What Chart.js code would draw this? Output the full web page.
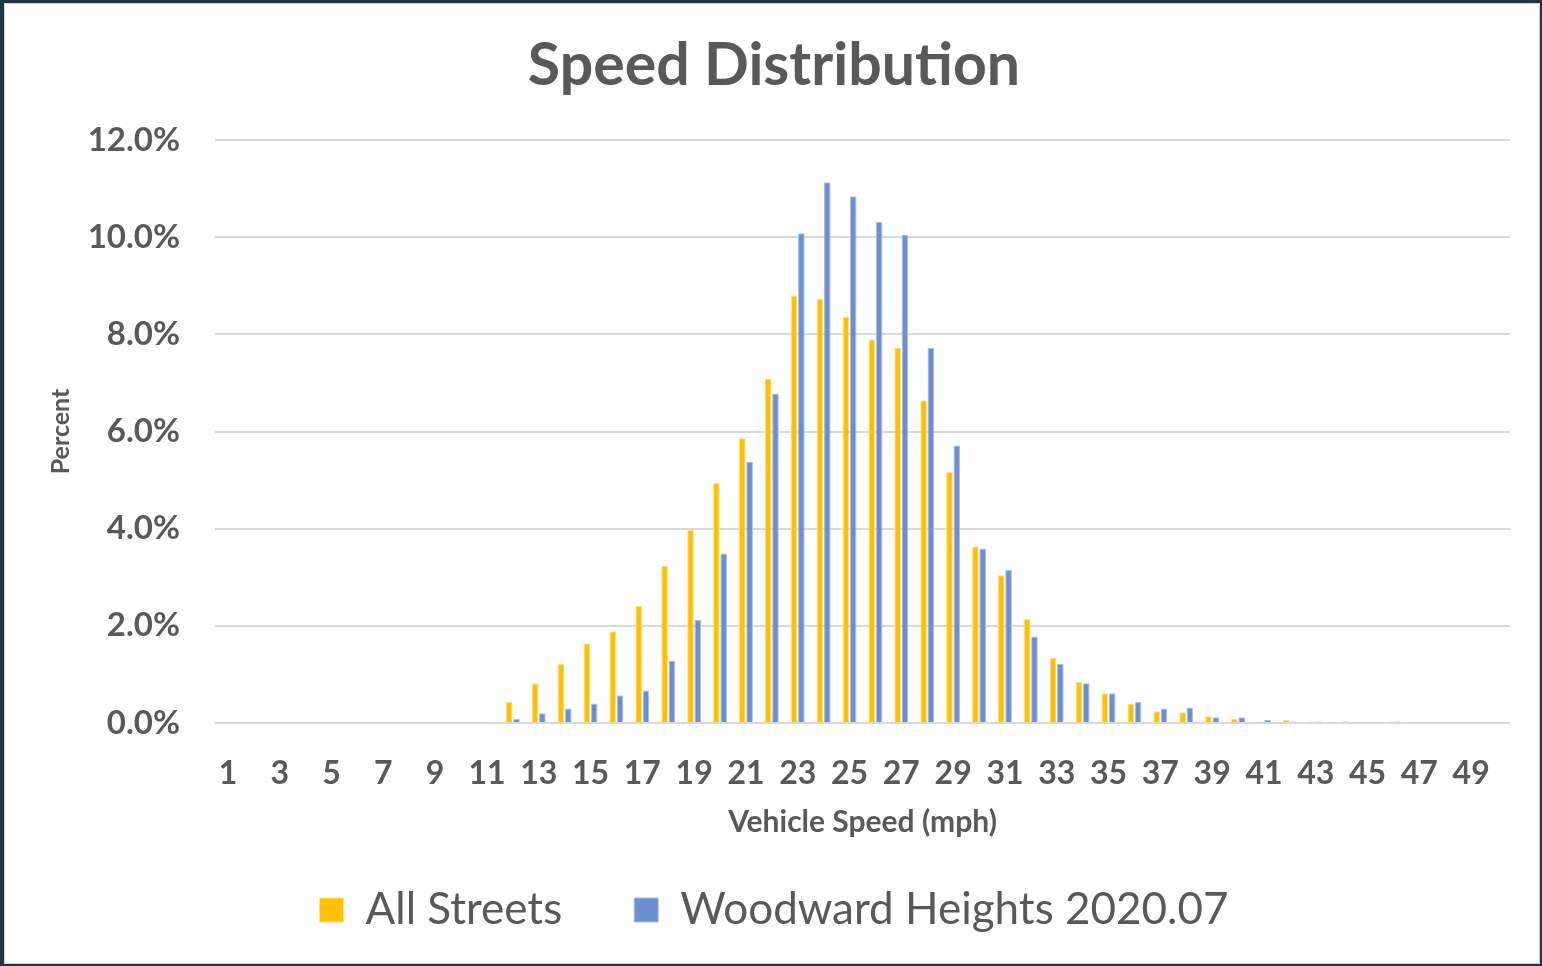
<!DOCTYPE html>
<html>
<head>
<meta charset="utf-8">
<title>Speed Distribution</title>
<script src="https://cdn.jsdelivr.net/npm/chart.js@4"></script>
<style>
  html, body { margin: 0; padding: 0; background: #243447; }
  #frame {
    position: absolute; left: 4px; top: 3px; width: 1534px; height: 959px;
    background: #fff; border: 1px solid #d0d0d0;
  }
  #wrap { position: absolute; left: 0; top: 0; width: 1542px; height: 966px; }
</style>
</head>
<body>
<div id="frame"></div>
<div id="wrap"><canvas id="speedChart" width="1542" height="966"></canvas></div>
<script>
// Speed buckets (mph)
const speeds = [
  '1','2','3','4','5','6','7','8','9','10',
  '11','12','13','14','15','16','17','18','19','20',
  '21','22','23','24','25','26','27','28','29','30',
  '31','32','33','34','35','36','37','38','39','40',
  '41','42','43','44','45','46','47','48','49','50'
];

// Percent of vehicles per speed
const allStreets = [
  0, 0, 0, 0, 0, 0, 0, 0, 0, 0,
  0, 0.43, 0.82, 1.22, 1.64, 1.89, 2.41, 3.23, 3.97, 4.94,
  5.86, 7.09, 8.80, 8.73, 8.36, 7.90, 7.72, 6.64, 5.17, 3.64,
  3.04, 2.14, 1.35, 0.85, 0.61, 0.40, 0.24, 0.22, 0.14, 0.08,
  0.03, 0.06, 0.03, 0, 0, 0.03, 0, 0, 0, 0
];

const woodward = [
  0, 0, 0, 0, 0, 0, 0, 0, 0, 0,
  0, 0.08, 0.20, 0.30, 0.40, 0.57, 0.67, 1.28, 2.12, 3.49,
  5.37, 6.78, 10.08, 11.13, 10.84, 10.31, 10.05, 7.72, 5.71, 3.59,
  3.15, 1.78, 1.22, 0.82, 0.61, 0.43, 0.30, 0.32, 0.12, 0.12,
  0.06, 0.03, 0.03, 0.03, 0, 0.03, 0, 0, 0, 0
];

const seriesNames = ['All Streets', 'Woodward Heights 2020.07'];

const textColor = '#595959';
const fontFamily = "Lato, 'Open Sans', sans-serif";

const ctx = document.getElementById('speedChart').getContext('2d');

new Chart(ctx, {
  type: 'bar',
  data: {
    labels: speeds,
    datasets: [
      {
        label: seriesNames[0],
        data: allStreets,
        backgroundColor: '#ffc000',
        borderColor: '#ffe08a',
        borderWidth: 1,
        categoryPercentage: 0.56,
        barPercentage: 0.92
      },
      {
        label: seriesNames[1],
        data: woodward,
        backgroundColor: '#6b8fd0',
        borderColor: '#a9bfe6',
        borderWidth: 1,
        categoryPercentage: 0.56,
        barPercentage: 0.92
      }
    ]
  },
  options: {
    responsive: false,
    animation: false,
    layout: { padding: { left: 6, right: 0, top: 0, bottom: 24 } },
    plugins: {
      title: {
        display: true,
        text: 'Speed Distribution',
        color: textColor,
        font: { family: fontFamily, size: 59, weight: 'bold' },
        padding: { top: 31, bottom: 38.2 }
      },
      legend: {
        position: 'bottom',
        labels: {
          color: textColor,
          font: { family: fontFamily, size: 44 },
          boxWidth: 24,
          boxHeight: 24,
          padding: 72
        }
      },
      tooltip: { enabled: false }
    },
    scales: {
      x: {
        grid: { display: false, drawTicks: false },
        border: { display: false },
        afterFit: (scale) => { scale.height = 93; },
        ticks: {
          color: textColor,
          autoSkip: false,
          maxRotation: 0,
          padding: 31,
          font: { family: fontFamily, size: 32, weight: 'bold' },
          callback: function (value, index) {
            return index % 2 === 0 ? this.getLabelForValue(value) : '';
          }
        },
        title: {
          display: true,
          text: 'Vehicle Speed (mph)',
          color: textColor,
          font: { family: fontFamily, size: 30, weight: 'bold' },
          padding: { top: 0, bottom: -24 }
        }
      },
      y: {
        min: 0,
        max: 12,
        grid: { color: '#d9d9d9', lineWidth: 2, drawTicks: false },
        border: { display: false },
        afterFit: (scale) => { scale.width = 209; },
        ticks: {
          stepSize: 2,
          color: textColor,
          padding: 35,
          font: { family: fontFamily, size: 33, weight: 'bold' },
          callback: (v) => v.toFixed(1) + '%'
        },
        title: {
          display: true,
          text: 'Percent',
          color: textColor,
          font: { family: fontFamily, size: 25, weight: 'bold' },
          padding: { top: 40, bottom: 0 }
        }
      },
      // empty right-hand spacer so the title and legend centre like the original
      yRight: {
        position: 'right',
        min: 0,
        max: 12,
        grid: { display: false, drawTicks: false },
        border: { display: false },
        ticks: { display: false },
        afterFit: (scale) => { scale.width = 32; }
      }
    }
  }
});
</script>
</body>
</html>
